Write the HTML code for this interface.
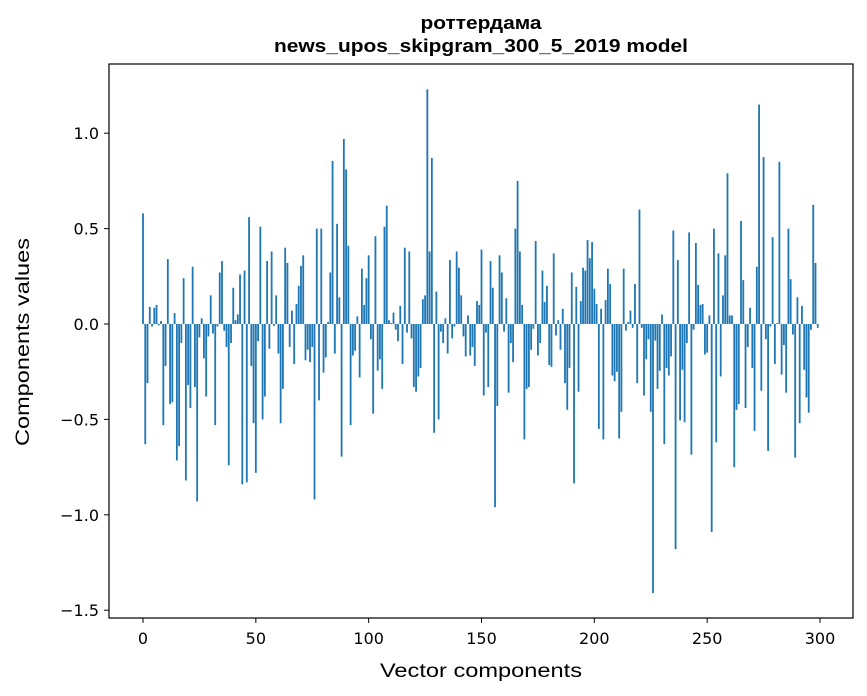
<!DOCTYPE html>
<html><head><meta charset="utf-8">
<style>
html,body{margin:0;padding:0;background:#fff;}
svg{display:block;}
.tick{font-family:"DejaVu Sans","Liberation Sans",sans-serif;font-size:16px;fill:#000;}
.lab{font-family:"Liberation Sans","DejaVu Sans",sans-serif;font-size:19.5px;fill:#000;}
.title{font-family:"Liberation Sans","DejaVu Sans",sans-serif;font-size:18px;font-weight:bold;fill:#000;}
</style></head>
<body>
<svg id="chart" width="867" height="696" viewBox="0 0 867 696" xmlns="http://www.w3.org/2000/svg">
<rect x="0" y="0" width="867" height="696" fill="#fff"/>
<text class="title" x="481" y="29" text-anchor="middle" textLength="121" lengthAdjust="spacingAndGlyphs">роттердама</text>
<text class="title" x="481" y="52" text-anchor="middle" textLength="414" lengthAdjust="spacingAndGlyphs">news_upos_skipgram_300_5_2019 model</text>
<g id="bars"></g>
<g id="axes"></g>
<text class="lab" x="481" y="677" text-anchor="middle" textLength="202" lengthAdjust="spacingAndGlyphs">Vector components</text>
<text class="lab" transform="translate(29,342) rotate(-90)" text-anchor="middle" textLength="208" lengthAdjust="spacingAndGlyphs">Components values</text>
</svg>
<script>
const values = [
0.58,-0.63,-0.31,0.09,-0.013,0.085,0.10,-0.007,0.016,-0.53,
-0.22,0.34,-0.42,-0.41,0.057,-0.715,-0.64,-0.10,0.24,-0.82,
-0.32,-0.44,0.30,-0.33,-0.93,-0.07,0.03,-0.18,-0.38,-0.065,
0.15,-0.05,-0.53,-0.013,0.27,0.33,-0.035,-0.12,-0.74,-0.10,
0.19,0.02,0.05,0.26,-0.84,0.28,-0.83,0.56,-0.22,-0.52,
-0.78,-0.09,0.51,-0.50,-0.38,0.33,-0.13,0.38,-0.01,0.15,
-0.155,-0.52,-0.34,0.40,0.32,-0.12,0.07,-0.21,0.105,0.20,
0.305,0.36,-0.19,-0.135,-0.20,-0.12,-0.92,0.50,-0.40,0.50,
-0.255,-0.175,0.01,0.27,0.855,-0.155,0.525,0.14,-0.695,0.97,
0.81,0.41,-0.53,-0.165,-0.14,0.04,-0.28,0.29,0.10,0.24,
0.36,-0.08,-0.47,0.46,-0.245,-0.185,-0.34,0.51,0.62,0.02,
0.005,0.06,-0.03,-0.09,0.095,-0.21,0.40,-0.045,0.38,-0.075,
-0.33,-0.355,-0.275,-0.23,0.13,0.15,1.23,0.38,0.87,-0.57,
0.17,-0.50,-0.04,-0.10,0.03,-0.155,0.335,-0.075,-0.013,0.38,
0.295,0.15,-0.065,-0.17,0.045,-0.165,-0.12,-0.22,0.12,0.10,
0.39,-0.375,-0.045,-0.33,0.33,0.19,-0.96,-0.43,0.36,0.27,
-0.04,0.135,-0.36,-0.10,-0.20,0.50,0.75,0.38,0.10,-0.605,
-0.34,-0.33,-0.135,-0.025,0.435,-0.165,-0.10,0.28,0.115,0.20,
-0.215,-0.225,0.37,-0.06,0.02,-0.135,0.08,-0.31,-0.45,-0.23,
0.27,-0.835,0.195,-0.355,0.12,0.295,0.28,0.44,0.345,0.43,
0.185,0.105,-0.55,0.08,-0.605,0.125,0.29,0.21,-0.27,-0.30,
-0.25,-0.60,-0.46,0.29,-0.035,0.01,0.07,-0.02,0.21,-0.31,
0.60,-0.02,-0.375,-0.185,-0.08,-0.46,-1.41,-0.087,-0.34,-0.245,
0.05,-0.63,-0.23,-0.27,-0.17,0.49,-1.18,0.335,-0.505,-0.24,
-0.515,-0.10,0.48,-0.685,-0.03,0.425,0.205,0.10,0.105,-0.16,
-0.15,0.045,-1.09,0.50,-0.62,0.37,-0.275,0.15,0.36,0.79,
0.045,0.045,-0.75,-0.45,-0.42,0.54,0.23,-0.44,-0.12,0.085,
-0.23,-0.56,0.30,1.15,-0.35,0.875,-0.08,-0.665,-0.013,0.455,
-0.21,0.005,0.85,-0.265,-0.11,-0.36,0.50,0.235,-0.055,-0.70,
0.14,-0.52,0.095,-0.24,-0.385,-0.465,-0.03,0.625,0.32,-0.02
];
const xTicks = [0,50,100,150,200,250,300];
const yTicks = [-1.5,-1.0,-0.5,0.0,0.5,1.0];
const yTickLabels = ["\u22121.5","\u22121.0","\u22120.5","0.0","0.5","1.0"];

const NS = "http://www.w3.org/2000/svg";
const L = 109, R = 853, T = 64, B = 618;
function xs(v){ return 143 + v * (677/300); }
function ys(v){ return 324 - v * 190.8; }

const barsG = document.getElementById('bars');
const bw = 0.8 * (677/300);
values.forEach((v, i) => {
  const r = document.createElementNS(NS, 'rect');
  const y0 = ys(0), y1 = ys(v);
  r.setAttribute('x', (xs(i) - bw/2).toFixed(2));
  r.setAttribute('y', Math.min(y0, y1).toFixed(2));
  r.setAttribute('width', bw.toFixed(2));
  r.setAttribute('height', Math.max(Math.abs(y1 - y0), 0.3).toFixed(2));
  r.setAttribute('fill', '#1f77b4');
  
  
  barsG.appendChild(r);
});

const axesG = document.getElementById('axes');
const frame = document.createElementNS(NS, 'rect');
frame.setAttribute('x', L); frame.setAttribute('y', T);
frame.setAttribute('width', R - L); frame.setAttribute('height', B - T);
frame.setAttribute('fill', 'none'); frame.setAttribute('stroke', '#000'); frame.setAttribute('stroke-width', '1.2');


axesG.appendChild(frame);

xTicks.forEach(t => {
  const x = xs(t);
  const ln = document.createElementNS(NS, 'line');
  ln.setAttribute('x1', x); ln.setAttribute('x2', x);
  ln.setAttribute('y1', B); ln.setAttribute('y2', B + 5);
  ln.setAttribute('stroke', '#000'); ln.setAttribute('stroke-width', '1');
  
  
  axesG.appendChild(ln);
  const tx = document.createElementNS(NS, 'text');
  tx.setAttribute('x', x); tx.setAttribute('y', 644);
  tx.setAttribute('text-anchor', 'middle'); tx.setAttribute('class', 'tick');
  tx.textContent = String(t);
  
  
  axesG.appendChild(tx);
});

yTicks.forEach((t, i) => {
  const y = ys(t);
  const ln = document.createElementNS(NS, 'line');
  ln.setAttribute('x1', L - 5); ln.setAttribute('x2', L);
  ln.setAttribute('y1', y); ln.setAttribute('y2', y);
  ln.setAttribute('stroke', '#000'); ln.setAttribute('stroke-width', '1');
  
  
  axesG.appendChild(ln);
  const tx = document.createElementNS(NS, 'text');
  tx.setAttribute('x', L - 10); tx.setAttribute('y', y + 6);
  tx.setAttribute('text-anchor', 'end'); tx.setAttribute('class', 'tick');
  tx.textContent = yTickLabels[i];
  
  
  axesG.appendChild(tx);
});
</script>
</body></html>
